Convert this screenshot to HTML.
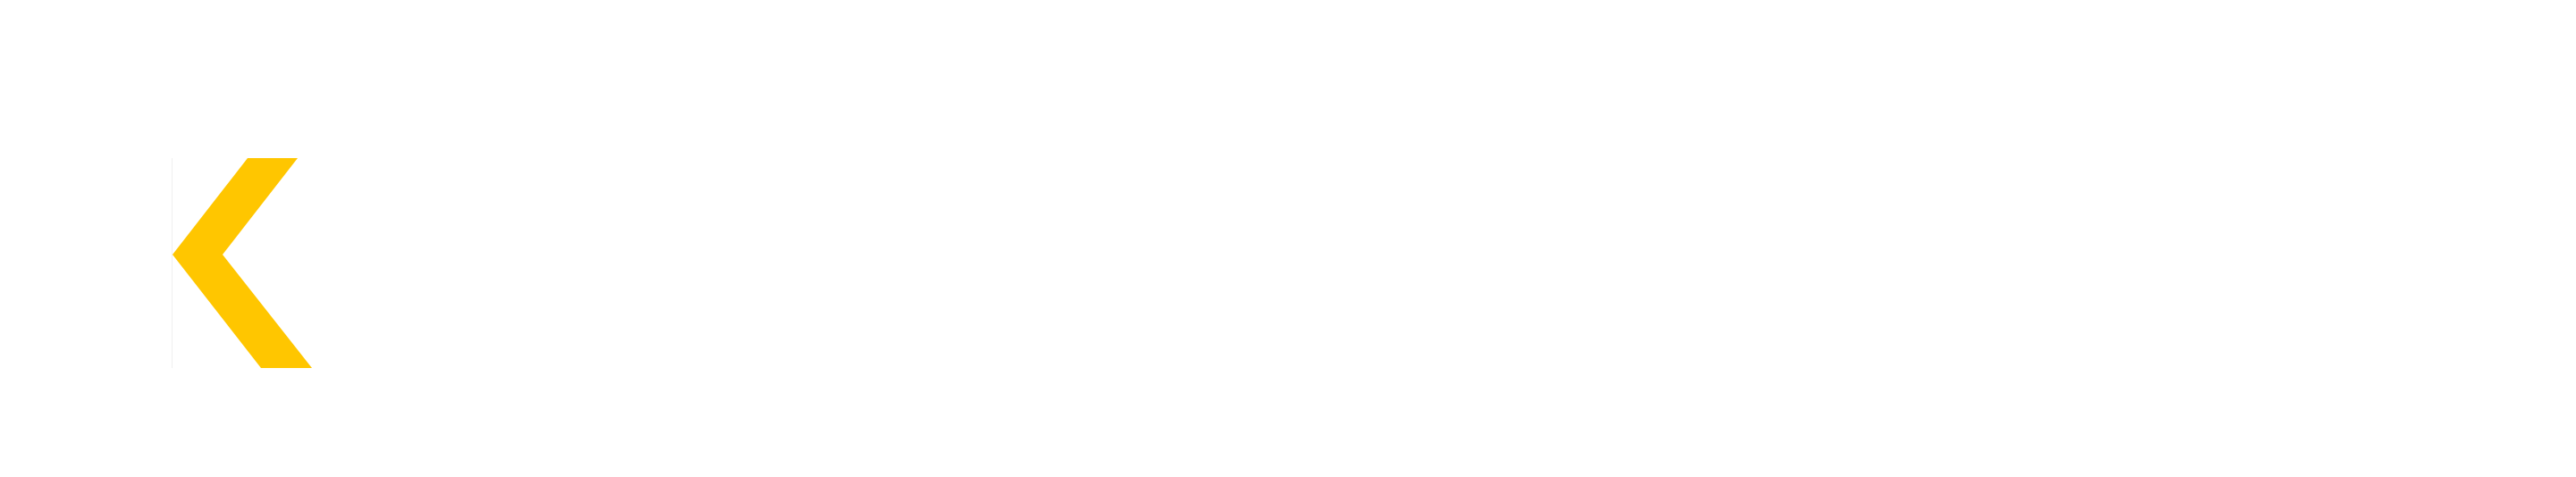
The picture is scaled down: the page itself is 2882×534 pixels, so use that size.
<!DOCTYPE html>
<html><head><meta charset="utf-8"><style>
html,body{margin:0;padding:0;background:#fff;width:2882px;height:534px;overflow:hidden}
</style></head><body>
<svg width="2882" height="534" xmlns="http://www.w3.org/2000/svg">
<rect width="2882" height="534" fill="#fff"/>
<line x1="192.5" y1="177" x2="192.5" y2="412" stroke="#f0f0f0" stroke-width="1"/>
<polygon points="277,177 333,177 249,285 349,412 292,412 193,285" fill="#ffc600"/>
</svg>
</body></html>
